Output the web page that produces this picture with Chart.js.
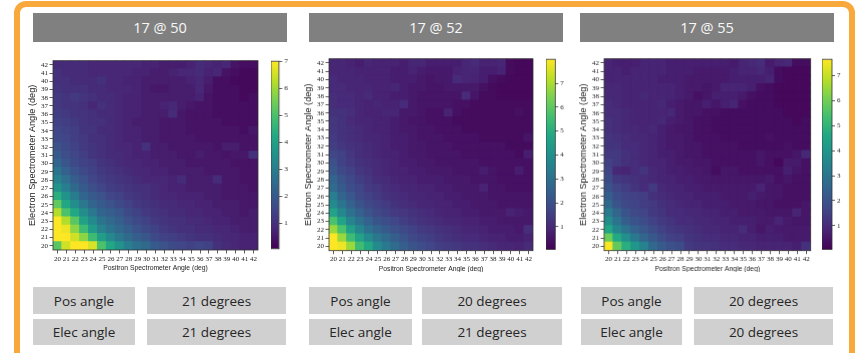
<!DOCTYPE html>
<html>
<head>
<meta charset="utf-8">
<script src="https://cdn.jsdelivr.net/npm/chart.js@4.4.1/dist/chart.umd.min.js"></script>
<style>
  html, body { margin: 0; padding: 0; background: #fff; }
  #page { position: relative; width: 859px; height: 353px; overflow: hidden; font-family: "Open Sans", sans-serif; }
  .frame { position: absolute; left: 14px; top: 1px; width: 841px; height: 420px; box-sizing: border-box;
           border: 6px solid #f9a83c; border-radius: 12px; }
  .box { position: absolute; display: flex; align-items: center; justify-content: center; box-sizing: border-box; }
  .title { background: #808080; color: #f8f8f8; font-size: 14.5px; top: 13px; height: 29px; }
  .cell { background: #d0d0d0; color: #262626; font-size: 13.5px; }
  .holder { position: absolute; }
</style>
</head>
<body>
<div id="page"><div class="frame"></div></div>
<script>
// ── Data ──────────────────────────────────────────────────────
const ANGLES = [20,21,22,23,24,25,26,27,28,29,30,31,32,33,34,35,36,37,38,39,40,41,42];
const TITLES = ['17 @ 50', '17 @ 52', '17 @ 55'];
const POS_ANGLES  = ['21 degrees', '20 degrees', '20 degrees'];
const ELEC_ANGLES = ['21 degrees', '21 degrees', '20 degrees'];
const CBAR_TICKS = [1, 2, 3, 4, 5, 6, 7];

// colour ranges [min, max]
const RANGE_50 = [0.05, 7.0];
const RANGE_52 = [0.05, 8.0];
const RANGE_55 = [0.05, 7.65];

// rows listed top to bottom: electron angle 42 first, 20 last; columns positron 20..42
const GRID_50 = [
  [0.9,0.9,0.9,0.9,0.8,0.8,0.8,0.8,0.8,0.8,0.7,0.7,0.6,0.6,0.6,0.7,0.9,0.8,0.7,0.8,0.4,0.3,0.3],
  [1.0,0.9,0.9,0.9,0.8,0.8,0.8,0.8,0.8,0.7,0.7,0.6,0.6,0.7,0.8,0.8,0.9,0.7,0.8,0.4,0.3,0.2,0.2],
  [1.0,1.0,0.9,0.9,0.9,1.0,0.8,0.8,0.7,0.7,0.6,0.6,0.6,0.6,0.6,0.7,0.8,0.6,0.3,0.3,0.2,0.2,0.2],
  [1.1,1.0,1.0,1.0,0.9,0.9,0.8,0.8,0.8,0.7,0.6,0.5,0.5,0.6,0.6,0.6,0.8,0.5,0.3,0.3,0.3,0.2,0.2],
  [1.2,1.1,1.2,1.1,1.0,0.9,0.9,0.8,0.7,0.7,0.6,0.6,0.6,0.6,0.6,0.6,0.7,0.4,0.3,0.3,0.3,0.2,0.3],
  [1.2,1.1,1.1,1.0,0.8,1.0,0.9,0.8,0.7,0.7,0.6,0.6,0.7,0.8,0.6,0.5,0.4,0.4,0.3,0.3,0.3,0.3,0.3],
  [1.3,1.2,1.1,1.1,1.0,0.9,0.9,0.8,0.7,0.7,0.6,0.6,0.6,0.9,0.5,0.4,0.4,0.4,0.3,0.3,0.3,0.3,0.3],
  [1.4,1.3,1.2,1.1,1.0,1.0,0.9,0.8,0.7,0.6,0.6,0.6,0.5,0.5,0.5,0.4,0.4,0.4,0.4,0.3,0.3,0.3,0.3],
  [1.5,1.4,1.3,1.1,1.1,0.9,0.9,0.8,0.7,0.7,0.6,0.6,0.5,0.5,0.5,0.4,0.4,0.4,0.4,0.4,0.4,0.3,0.5],
  [1.6,1.5,1.3,1.2,1.0,1.0,0.9,0.8,0.7,0.7,0.6,0.6,0.5,0.5,0.5,0.5,0.4,0.4,0.4,0.4,0.4,0.4,0.4],
  [1.8,1.6,1.4,1.2,1.1,1.0,0.9,0.8,0.8,0.7,1.0,0.6,0.6,0.5,0.5,0.5,0.5,0.5,0.4,0.6,0.6,0.4,0.4],
  [2.0,1.7,1.5,1.3,1.1,1.0,0.9,0.9,0.8,0.7,0.7,0.6,0.6,0.6,0.5,0.5,0.6,0.5,0.5,0.4,0.5,0.5,1.0],
  [2.3,1.9,1.6,1.4,1.3,1.1,1.0,0.9,0.8,0.8,0.7,0.7,0.6,0.6,0.6,0.5,0.5,0.5,0.5,0.5,0.4,0.4,0.4],
  [2.7,2.2,1.8,1.6,1.4,1.2,1.1,1.0,0.9,0.8,0.8,0.7,0.7,0.6,0.6,0.6,0.6,0.5,0.5,0.5,0.5,0.4,0.4],
  [3.1,2.6,2.1,1.8,1.5,1.3,1.2,1.1,1.0,0.9,0.8,0.8,0.8,0.7,0.9,0.6,0.6,0.6,0.9,0.5,0.5,0.4,0.4],
  [3.6,3.0,2.4,2.0,1.7,1.5,1.3,1.2,1.1,1.0,1.0,0.9,0.8,0.7,0.7,0.6,0.6,0.6,0.6,0.5,0.5,0.5,0.4],
  [4.4,3.6,2.9,2.3,2.0,1.8,1.5,1.4,1.2,1.1,1.0,0.9,0.8,0.8,0.7,0.7,0.7,0.6,0.6,0.5,0.5,0.5,0.5],
  [5.3,4.2,3.4,2.8,2.3,2.0,1.8,1.6,1.4,1.2,1.1,1.0,0.9,0.9,0.8,0.8,0.7,0.7,0.6,0.6,0.6,0.5,0.5],
  [6.2,5.0,4.2,3.4,2.8,2.3,2.1,1.9,1.6,1.4,1.2,1.1,1.0,0.9,0.9,0.8,0.8,0.7,0.7,0.6,0.6,0.5,0.6],
  [7.0,6.2,5.2,4.0,3.3,2.7,2.4,2.1,1.8,1.6,1.4,1.2,1.1,1.0,1.0,0.9,0.9,0.8,0.7,0.7,0.6,0.6,0.6],
  [7.0,6.8,5.8,4.8,3.8,3.1,2.7,2.4,2.1,1.8,1.6,1.4,1.2,1.1,1.0,1.0,0.9,0.9,0.8,0.8,0.7,0.6,0.6],
  [7.0,7.0,6.5,5.8,4.8,3.9,3.3,2.8,2.4,2.1,1.9,1.6,1.4,1.3,1.2,1.1,1.0,1.0,0.9,0.8,0.8,0.7,0.7],
  [5.2,6.5,7.0,7.0,6.6,5.0,4.2,3.6,3.0,2.6,2.4,2.0,1.8,1.6,1.5,1.4,1.5,1.4,1.0,0.9,0.8,0.7,0.7]
];

const GRID_52 = [
  [0.9,0.9,0.8,0.7,0.9,0.8,0.8,0.8,0.7,0.9,0.9,0.7,0.7,0.7,0.7,0.9,1.0,0.8,0.8,0.9,0.3,0.2,0.2],
  [0.9,0.9,0.9,0.8,0.8,0.8,0.8,0.7,0.7,0.8,0.7,0.6,0.6,0.6,0.8,0.9,0.9,0.7,0.7,0.8,0.3,0.2,0.2],
  [1.0,0.9,0.9,0.9,0.8,0.8,0.8,0.7,0.7,0.7,0.6,0.5,0.6,0.6,1.0,0.9,0.8,0.7,0.4,0.3,0.2,0.2,0.2],
  [1.0,1.0,0.9,0.9,0.9,0.8,0.8,0.9,0.7,0.6,0.6,0.5,0.5,0.6,0.6,0.6,0.6,0.4,0.3,0.2,0.2,0.2,0.2],
  [1.1,1.0,1.0,0.9,1.0,0.8,0.8,0.7,0.7,0.6,0.5,0.5,0.5,0.5,0.5,1.0,0.5,0.3,0.3,0.2,0.2,0.2,0.2],
  [1.1,1.0,1.0,0.9,0.8,0.9,0.8,0.8,1.0,0.6,0.5,0.5,0.5,0.5,0.4,0.4,0.3,0.3,0.3,0.3,0.3,0.3,0.3],
  [1.2,1.2,1.1,0.9,0.8,0.8,0.9,0.9,0.6,0.6,0.5,0.4,0.4,0.8,0.4,0.3,0.3,0.3,0.3,0.3,0.3,0.4,0.3],
  [1.3,1.2,1.0,0.9,0.9,0.8,0.8,0.7,0.6,0.5,0.5,0.4,0.4,0.4,0.3,0.3,0.3,0.3,0.3,0.3,0.3,0.3,0.3],
  [1.3,1.2,1.1,1.0,0.9,0.8,0.8,0.7,0.6,0.6,0.5,0.5,0.4,0.4,0.4,0.3,0.3,0.3,0.3,0.3,0.3,0.3,0.3],
  [1.4,1.2,1.1,1.0,0.9,0.9,0.8,0.7,0.7,0.6,0.5,0.5,0.5,0.4,0.4,0.4,0.4,0.3,0.3,0.3,0.3,0.3,0.5],
  [1.5,1.3,1.2,1.1,1.0,0.9,0.8,0.7,0.7,0.6,0.6,0.5,0.5,0.5,0.4,0.4,0.4,0.4,0.4,0.4,0.3,0.3,0.3],
  [1.7,1.6,1.3,1.1,1.0,0.9,0.8,0.8,0.7,0.6,0.6,0.5,0.5,0.5,0.5,0.4,0.4,0.4,0.4,0.4,0.4,0.3,0.7],
  [2.0,1.6,1.4,1.2,1.1,1.0,0.9,0.8,0.7,0.7,0.6,0.6,0.5,0.5,0.5,0.5,0.5,0.4,0.4,0.4,0.4,0.4,0.4],
  [2.2,1.8,1.6,1.3,1.2,1.0,0.9,0.8,0.8,0.7,0.7,0.6,0.6,0.6,0.5,0.5,0.5,0.7,0.5,0.4,0.4,0.7,0.4],
  [2.6,2.1,1.8,1.5,1.3,1.1,1.0,0.9,0.8,0.8,0.7,0.7,0.7,0.6,0.6,0.6,0.5,0.5,0.5,0.4,0.4,0.4,0.4],
  [2.8,2.3,1.9,1.7,1.4,1.3,1.1,1.0,0.9,0.9,0.8,0.8,0.7,0.7,0.6,0.6,0.6,0.8,0.5,0.5,0.4,0.4,0.4],
  [3.4,2.6,2.2,1.8,1.6,1.4,1.2,1.1,1.0,0.9,0.9,0.8,0.8,0.7,0.7,0.6,0.6,0.6,0.5,0.5,0.5,0.5,0.5],
  [3.8,3.1,2.5,2.1,1.8,1.6,1.4,1.2,1.1,1.0,0.9,0.9,0.8,0.8,0.7,0.7,0.6,0.6,0.6,0.5,0.5,0.5,0.5],
  [4.6,3.7,3.0,2.5,2.1,1.8,1.6,1.4,1.3,1.2,1.1,1.0,0.9,0.8,0.8,0.7,0.7,0.6,0.6,0.6,0.8,0.7,0.6],
  [5.7,4.6,3.6,3.0,2.5,2.1,1.9,1.7,1.5,1.3,1.2,1.1,1.0,0.9,0.9,0.8,0.8,0.7,0.7,0.6,0.6,0.6,0.6],
  [6.8,5.7,4.5,3.7,3.0,2.6,2.3,2.0,1.8,1.6,1.4,1.3,1.2,1.1,1.0,0.9,0.9,0.8,0.7,0.7,0.7,0.6,1.1],
  [8.0,6.8,5.5,4.6,3.8,3.2,2.8,2.4,2.1,1.8,1.6,1.5,1.3,1.2,1.1,1.0,1.0,0.9,0.8,0.8,0.7,0.7,0.8],
  [8.0,7.8,6.8,5.5,4.8,3.8,3.3,2.8,2.4,2.1,1.9,1.7,1.5,1.4,1.3,1.2,1.2,1.1,1.0,0.9,0.9,0.8,1.0]
];

const GRID_55 = [
  [0.8,0.7,0.7,0.7,0.8,0.8,0.8,0.7,0.7,0.7,0.7,0.7,0.7,0.7,0.6,0.8,0.9,1.0,0.6,0.8,0.9,0.3,0.3],
  [0.8,0.8,0.7,0.8,0.8,0.8,0.8,0.7,0.7,0.7,0.6,0.6,0.6,0.6,0.7,0.8,0.8,0.9,0.7,0.3,0.2,0.2,0.2],
  [0.8,0.8,0.8,0.8,0.8,0.8,0.7,0.7,0.7,0.6,0.6,0.6,0.6,0.6,0.7,0.7,0.7,0.7,0.8,0.3,0.2,0.2,0.2],
  [0.9,0.9,0.8,0.8,0.8,0.8,0.8,0.8,0.7,0.6,0.6,0.5,0.6,0.8,0.8,0.8,0.7,0.4,0.3,0.2,0.2,0.2,0.2],
  [0.9,0.9,0.8,0.8,0.9,0.8,0.8,0.8,0.7,0.6,0.4,0.5,0.7,0.7,0.7,0.6,0.4,0.3,0.3,0.2,0.2,0.2,0.2],
  [1.0,0.9,0.8,0.8,0.8,0.8,0.9,0.7,0.6,0.5,0.5,0.7,0.5,0.7,0.8,0.4,0.3,0.3,0.3,0.2,0.2,0.2,0.2],
  [1.0,1.0,0.9,0.8,0.8,0.8,0.8,0.9,0.6,0.5,0.5,0.4,0.4,0.3,0.3,0.3,0.3,0.3,0.3,0.3,0.2,0.2,0.2],
  [1.1,1.0,0.9,0.8,0.8,0.8,0.9,0.7,0.6,0.5,0.4,0.4,0.3,0.3,0.3,0.3,0.3,0.3,0.3,0.3,0.3,0.2,0.3],
  [1.1,1.0,0.9,0.9,0.8,0.9,0.7,0.6,0.5,0.5,0.4,0.4,0.3,0.3,0.3,0.3,0.3,0.3,0.3,0.3,0.3,0.3,0.3],
  [1.2,1.1,1.0,0.9,0.9,0.8,0.7,0.6,0.6,0.5,0.4,0.4,0.4,0.3,0.3,0.3,0.3,0.3,0.4,0.3,0.3,0.3,0.3],
  [1.2,1.2,1.0,1.0,0.9,0.8,0.7,0.6,0.6,0.5,0.5,0.4,0.4,0.4,0.4,0.3,0.3,0.3,0.3,0.3,0.4,0.3,0.3],
  [1.3,1.3,1.1,1.0,0.9,0.8,0.7,0.7,0.6,0.5,0.5,0.4,0.4,0.4,0.4,0.4,0.4,0.5,0.4,0.4,0.4,0.5,0.9],
  [1.5,1.3,1.1,1.0,0.9,0.8,0.8,0.7,0.6,0.6,0.5,0.5,0.4,0.4,0.4,0.4,0.4,0.5,0.4,0.2,0.6,0.6,0.4],
  [1.6,0.9,0.8,1.0,1.2,0.9,0.8,0.7,0.7,0.6,0.6,0.5,0.3,0.5,0.5,0.4,0.4,0.4,0.4,0.4,0.7,0.5,0.4],
  [1.8,1.3,1.2,1.1,1.0,0.9,0.8,0.8,0.7,0.7,0.6,0.6,0.5,0.5,0.5,0.5,0.5,0.5,0.6,0.4,0.5,0.4,0.4],
  [2.0,1.6,1.4,1.2,1.0,1.3,0.9,0.8,0.8,0.7,0.7,0.6,0.6,0.6,0.6,0.6,0.6,0.8,0.5,0.5,0.4,0.4,0.4],
  [2.3,1.8,1.6,1.5,1.4,1.1,1.0,0.9,0.8,0.8,0.7,0.7,0.7,0.6,0.6,0.6,0.7,0.6,0.5,0.5,0.4,0.4,0.4],
  [2.6,2.0,1.7,1.6,1.4,1.3,1.1,1.0,0.9,0.8,0.8,0.7,0.7,0.7,0.6,0.6,0.6,0.5,0.5,0.4,0.4,0.4,0.5],
  [3.2,2.5,2.0,1.7,1.6,1.3,1.2,1.0,1.0,0.9,0.9,0.8,0.8,0.7,0.7,0.6,0.6,0.6,0.5,0.5,0.5,0.8,0.5],
  [3.7,2.9,2.3,2.0,1.8,1.5,1.3,1.2,1.0,1.0,0.9,0.9,0.8,0.8,0.7,0.7,0.7,0.6,0.6,0.8,0.6,0.5,0.5],
  [4.5,3.5,2.9,2.4,2.1,1.8,1.5,1.3,1.2,1.1,1.0,0.9,0.9,0.8,0.8,1.0,0.7,0.5,0.7,0.6,0.6,0.6,0.6],
  [5.9,4.6,3.8,3.1,2.5,2.1,1.8,1.5,1.4,1.2,1.1,1.0,1.0,0.9,0.9,0.8,0.8,0.7,0.7,0.7,0.6,0.6,0.6],
  [7.6,5.8,4.8,4.0,3.4,2.6,2.2,1.9,1.8,1.3,1.2,1.2,1.1,1.0,1.0,0.9,0.9,0.8,0.8,0.8,0.8,0.7,1.1]
];

const GRIDS  = [GRID_50, GRID_52, GRID_55];
const RANGES = [RANGE_50, RANGE_52, RANGE_55];

// ── Layout (page pixels) ─────────────────────────────────────
const PANELS = [
  { plot: { l: 53.3,  t: 60,   w: 205,   h: 190 },   cbar: { l: 271, w: 7.7 },  title: { l: 33,  w: 254 }, lab: { l: 33,  w: 102 }, val: { l: 147, w: 139 } },
  { plot: { l: 329.3, t: 58.3, w: 204,   h: 191.7 }, cbar: { l: 546, w: 9.3 },  title: { l: 309, w: 254 }, lab: { l: 309, w: 103 }, val: { l: 422, w: 140 } },
  { plot: { l: 604.3, t: 58.3, w: 205.7, h: 191.7 }, cbar: { l: 822, w: 10 },   title: { l: 580, w: 254 }, lab: { l: 581, w: 101 }, val: { l: 694, w: 139 } }
];
const Y_AXIS_W = 26;
const X_AXIS_H = 22;
const PAD = 5;
const CB_AXIS_W = 16;

const SERIF = '"Liberation Serif", "DejaVu Serif", serif';
const SANS  = '"Liberation Sans", Arial, sans-serif';
const INK = '#222';

// ── Colour map ───────────────────────────────────────────────
const VIRIDIS = ['#440154','#482475','#414487','#355f8d','#2a788e','#21918c',
                 '#22a884','#44bf70','#7ad151','#bddf26','#fde725'];
const VIRIDIS_RGB = VIRIDIS.map(h => [1, 3, 5].map(i => parseInt(h.slice(i, i + 2), 16)));

function viridis(t) {
  t = Math.max(0, Math.min(1, t));
  const s = t * (VIRIDIS_RGB.length - 1);
  const i = Math.min(Math.floor(s), VIRIDIS_RGB.length - 2);
  const f = s - i;
  const a = VIRIDIS_RGB[i], b = VIRIDIS_RGB[i + 1];
  const c = a.map((v, k) => Math.round(v + (b[k] - v) * f));
  return `rgb(${c[0]},${c[1]},${c[2]})`;
}

function cbarGradient(chart) {
  const a = chart.chartArea;
  if (!a) return VIRIDIS[5];
  const g = chart.ctx.createLinearGradient(0, a.bottom, 0, a.top);
  VIRIDIS.forEach((c, i) => g.addColorStop(i / (VIRIDIS.length - 1), c));
  return g;
}

// axes frame round the plot area
const framePlugin = {
  id: 'frame',
  afterDatasetsDraw(chart) {
    const { ctx, chartArea: a } = chart;
    ctx.save();
    ctx.strokeStyle = '#333';
    ctx.lineWidth = 0.8;
    ctx.strokeRect(a.left, a.top, a.right - a.left, a.bottom - a.top);
    ctx.restore();
  }
};

// ── DOM helpers ──────────────────────────────────────────────
const page = document.getElementById('page');

function addBox(cls, l, t, w, h, text) {
  const d = document.createElement('div');
  d.className = 'box ' + cls;
  Object.assign(d.style, { left: l + 'px', top: t + 'px', width: w + 'px', height: h + 'px' });
  d.textContent = text;
  page.appendChild(d);
}

function addCanvas(l, t, w, h) {
  const d = document.createElement('div');
  d.className = 'holder';
  Object.assign(d.style, { left: l + 'px', top: t + 'px', width: w + 'px', height: h + 'px' });
  const c = document.createElement('canvas');
  d.appendChild(c);
  page.appendChild(d);
  return c;
}

const tickGrid = { drawOnChartArea: false, drawTicks: true, tickLength: 3.5, tickWidth: 0.8, tickColor: '#333' };

// ── Charts ───────────────────────────────────────────────────
function heatmap(canvas, grid, range) {
  const [vmin, vmax] = range;
  const rows = grid.slice().reverse();   // index 0 = 20 deg
  return new Chart(canvas, {
    type: 'bar',
    data: {
      labels: ANGLES.map(String),
      datasets: rows.map(row => ({
        data: row.map(() => 1),
        backgroundColor: row.map(v => viridis((v - vmin) / (vmax - vmin))),
        borderWidth: 0,
        inflateAmount: 0.6,   // overlap neighbours so no seams show
        barPercentage: 1,
        categoryPercentage: 1
      }))
    },
    options: {
      animation: false, responsive: true, maintainAspectRatio: false, devicePixelRatio: 1,
      layout: { padding: { top: PAD, right: PAD, left: 0, bottom: 0 } },
      plugins: { legend: { display: false }, tooltip: { enabled: false } },
      scales: {
        x: {
          stacked: true,
          grid: Object.assign({ offset: false }, tickGrid),
          border: { display: false },
          ticks: { autoSkip: false, maxRotation: 0, minRotation: 0, padding: 1, color: INK,
                   font: { family: SERIF, size: 7 } },
          title: { display: true, text: 'Positron Spectrometer Angle (deg)', padding: 0, color: INK,
                   font: { family: SANS, size: 6.8 } },
          afterFit: s => { s.height = X_AXIS_H; }
        },
        y: {
          stacked: true, min: 0, max: ANGLES.length,
          grid: tickGrid,
          border: { display: false },
          afterBuildTicks: s => { s.ticks = ANGLES.map((a, i) => ({ value: i + 0.5 })); },
          ticks: { autoSkip: false, padding: 1.5, color: INK, font: { family: SERIF, size: 7 },
                   callback: (v, i) => String(ANGLES[i]) },
          title: { display: true, text: 'Electron Spectrometer Angle (deg)', padding: 0, color: INK,
                   font: { family: SANS, size: 9.2 } },
          afterFit: s => { s.width = Y_AXIS_W; }
        }
      }
    },
    plugins: [framePlugin]
  });
}

function colorbar(canvas, range) {
  return new Chart(canvas, {
    type: 'bar',
    data: {
      labels: ['cbar'],
      datasets: [{ data: [range], backgroundColor: c => cbarGradient(c.chart), borderWidth: 0,
                   barPercentage: 1, categoryPercentage: 1, inflateAmount: 0 }]
    },
    options: {
      animation: false, responsive: true, maintainAspectRatio: false, devicePixelRatio: 1,
      layout: { padding: { top: PAD, bottom: PAD, left: 0, right: 0 } },
      plugins: { legend: { display: false }, tooltip: { enabled: false } },
      scales: {
        x: { display: false },
        y: {
          position: 'right', min: range[0], max: range[1],
          grid: Object.assign({}, tickGrid, { tickLength: 3 }),
          border: { display: false },
          afterBuildTicks: s => { s.ticks = CBAR_TICKS.filter(v => v <= range[1]).map(v => ({ value: v })); },
          ticks: { padding: 2, color: INK, font: { family: SERIF, size: 7 } },
          afterFit: s => { s.width = CB_AXIS_W; }
        }
      }
    },
    plugins: [framePlugin]
  });
}

// ── Build page ───────────────────────────────────────────────
PANELS.forEach((p, i) => {
  addBox('title', p.title.l, 13, p.title.w, 29, TITLES[i]);

  const hm = addCanvas(p.plot.l - Y_AXIS_W, p.plot.t - PAD, Y_AXIS_W + p.plot.w + PAD, PAD + p.plot.h + X_AXIS_H);
  heatmap(hm, GRIDS[i], RANGES[i]);

  const cb = addCanvas(p.cbar.l, p.plot.t - PAD, p.cbar.w + CB_AXIS_W, p.plot.h + 2 * PAD);
  colorbar(cb, RANGES[i]);

  addBox('cell', p.lab.l, 287, p.lab.w, 27, 'Pos angle');
  addBox('cell', p.val.l, 287, p.val.w, 27, POS_ANGLES[i]);
  addBox('cell', p.lab.l, 319, p.lab.w, 26, 'Elec angle');
  addBox('cell', p.val.l, 319, p.val.w, 26, ELEC_ANGLES[i]);
});
</script>
</body>
</html>
